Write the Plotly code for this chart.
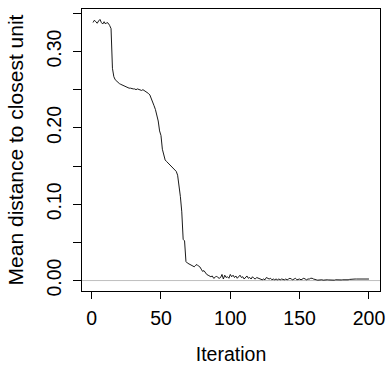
import plotly.graph_objects as go

iterations = list(range(1, 201))
mean_distance = [
    0.338, 0.341, 0.339, 0.337, 0.340, 0.342, 0.338, 0.336, 0.339, 0.336,
    0.338, 0.337, 0.334, 0.330, 0.278, 0.267, 0.263, 0.261, 0.259, 0.258,
    0.257, 0.256, 0.255, 0.254, 0.253, 0.253, 0.252, 0.252, 0.251, 0.251,
    0.251, 0.250, 0.251, 0.250, 0.250, 0.249, 0.250, 0.249, 0.248, 0.247,
    0.245, 0.243, 0.239, 0.235, 0.229, 0.224, 0.218, 0.209, 0.196, 0.190,
    0.172, 0.165, 0.158, 0.156, 0.154, 0.152, 0.150, 0.148, 0.146, 0.145,
    0.143, 0.138, 0.126, 0.110, 0.090, 0.054, 0.052, 0.025, 0.023, 0.022,
    0.021, 0.020, 0.019, 0.018, 0.020, 0.021, 0.019, 0.018, 0.015, 0.012,
    0.013, 0.010, 0.008, 0.007, 0.006, 0.005, 0.006, 0.003, 0.004, 0.006,
    0.004, 0.003, 0.004, 0.008, 0.002, 0.007, 0.004, 0.005, 0.003, 0.008,
    0.005, 0.007, 0.004, 0.006, 0.003, 0.005, 0.007, 0.004, 0.005, 0.002,
    0.004, 0.006, 0.003, 0.004, 0.002, 0.005, 0.003, 0.002, 0.004, 0.003,
    0.002, 0.001, 0.001, 0.002, 0.001, 0.004, 0.003, 0.002, 0.003, 0.001,
    0.002, 0.001, 0.002, 0.001, 0.002, 0.001, 0.002, 0.001, 0.001, 0.002,
    0.001, 0.002, 0.003, 0.002, 0.001, 0.002, 0.003, 0.001, 0.002, 0.002,
    0.001, 0.002, 0.003, 0.002, 0.001, 0.002, 0.002, 0.003, 0.003, 0.002,
    0.001, 0.001, 0.0005, 0.001, 0.0005, 0.001, 0.0005, 0.001, 0.0005, 0.001,
    0.0008, 0.0005, 0.001, 0.0008, 0.0005, 0.001, 0.0008, 0.0005, 0.001, 0.0008,
    0.001, 0.0008, 0.001, 0.0012, 0.001, 0.0015, 0.0018, 0.002, 0.002, 0.002,
    0.002, 0.002, 0.002, 0.002, 0.002, 0.002, 0.002, 0.002, 0.002, 0.002,
]

x_ticks = [0, 50, 100, 150, 200]
x_tick_labels = ["0", "50", "100", "150", "200"]
y_ticks = [0.0, 0.05, 0.10, 0.15, 0.20, 0.25, 0.30, 0.35]
y_tick_labels = ["0.00", "", "0.10", "", "0.20", "", "0.30", ""]

FONT = "Liberation Sans, Arial, Helvetica, sans-serif"
FS = 19.5

# R-style 4% range extension
xmin, xmax = min(iterations), max(iterations)
xr = xmax - xmin
ymin, ymax = 0.0, max(mean_distance)
yr = ymax - ymin

fig = go.Figure()
fig.add_trace(go.Scatter(
    x=iterations, y=mean_distance, mode="lines",
    line=dict(color="black", width=0.9), showlegend=False, hoverinfo="skip",
))

fig.add_shape(type="line", xref="paper", yref="y", x0=0, x1=1, y0=0, y1=0,
              line=dict(color="#bebebe", width=1), layer="below")

fig.update_layout(
    width=391, height=367,
    margin=dict(l=82, r=6, t=9, b=72),
    paper_bgcolor="white", plot_bgcolor="white",
    font=dict(family=FONT, size=FS, color="black"),
    xaxis=dict(
        range=[xmin - 0.04 * xr, xmax + 0.04 * xr],
        tickvals=x_ticks, ticktext=x_tick_labels,
        ticks="outside", ticklen=7, tickwidth=1, tickcolor="black",
        ticklabelstandoff=3,
        showline=True, linecolor="black", linewidth=1, mirror=True,
        showgrid=False, zeroline=False,
        tickfont=dict(size=FS),
        title=dict(text="Iteration", font=dict(size=FS), standoff=18),
    ),
    yaxis=dict(
        range=[ymin - 0.04 * yr, ymax + 0.04 * yr],
        tickvals=y_ticks, ticktext=y_tick_labels, tickangle=-90,
        ticks="outside", ticklen=8, tickwidth=1, tickcolor="black",
        ticklabelstandoff=4,
        showline=True, linecolor="black", linewidth=1, mirror=True,
        showgrid=False, zeroline=False,
        tickfont=dict(size=FS),
        title=dict(text="Mean distance to closest unit", font=dict(size=21), standoff=13),
    ),
)

fig.write_html("out.html")
